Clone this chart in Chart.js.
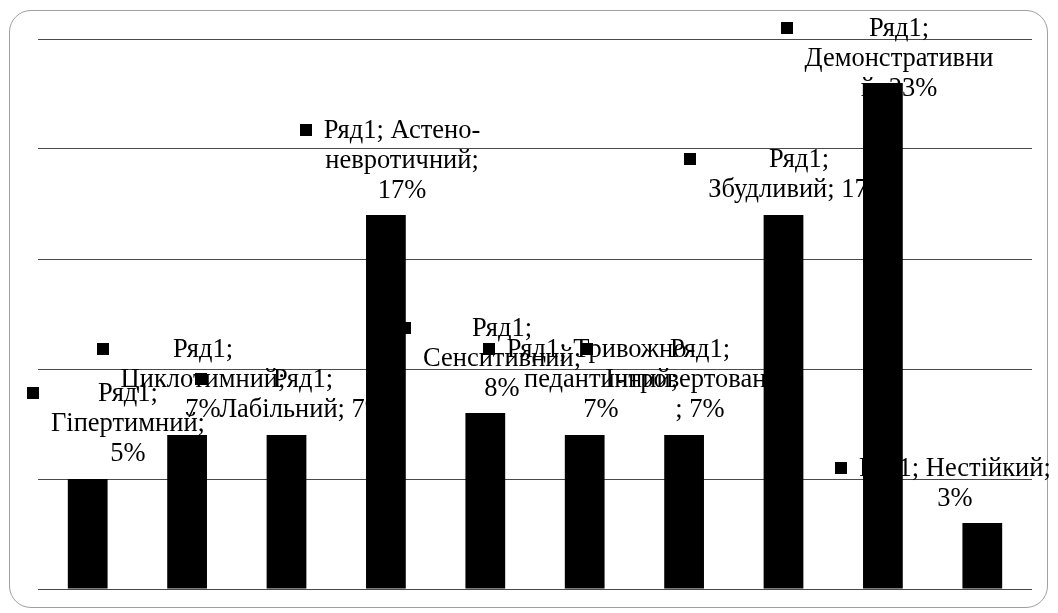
<!DOCTYPE html>
<html>
<head>
<meta charset="utf-8">
<script src="https://cdn.jsdelivr.net/npm/chart.js@4.4.1/dist/chart.umd.min.js"></script>
<style>
  html, body { margin: 0; padding: 0; background: #fff; }
  #wrap { position: relative; width: 1058px; height: 613px; }
  #frame { position: absolute; left: 9px; top: 10px; width: 1039px; height: 598px;
           border: 1.5px solid #a0a0a0; border-radius: 22px; box-sizing: border-box; }
  canvas { position: absolute; left: 0; top: 0; }
</style>
</head>
<body>
<div id="wrap">
  <div id="frame"></div>
  <canvas id="c" width="1058" height="613"></canvas>
</div>
<script>
// ---- data ----
const seriesName = "Ряд1";
const categories = ["Гіпертимний", "Циклотимний", "Лабільний", "Астено-невротичний", "Сенситивний",
  "Тривожно-педантичний", "Інтровертований", "Збудливий", "Демонстративний", "Нестійкий"];
const values = [5, 7, 7, 17, 8, 7, 7, 17, 23, 3];
const yTicks = [0, 5, 10, 15, 20, 25];

// label text as wrapped in the picture
const labelLines = [
  ["Ряд1;", "Гіпертимний;", "5%"],
  ["Ряд1;", "Циклотимний;", "7%"],
  ["Ряд1;", "Лабільний; 7%"],
  ["Ряд1; Астено-", "невротичний;", "17%"],
  ["Ряд1;", "Сенситивний;", "8%"],
  ["Ряд1; Тривожно-", "педантичний;", "7%"],
  ["Ряд1;", "Інтровертований", "; 7%"],
  ["Ряд1;", "Збудливий; 17%"],
  ["Ряд1;", "Демонстративни", "й; 23%"],
  ["Ряд1; Нестійкий;", "3%"]
];
// label anchor (first line) in data units: value axis, and offset in category widths
const labelY  = [8.86, 10.86, 9.5, 20.82, 11.82, 10.86, 10.86, 19.5, 25.45, 5.45];
const labelDX = [0.405, 0.16, 0.166, 0.162, 0.168, 0.164, 0.16, 0.156, 0.162, -0.275];

const labelPlugin = {
  id: 'excelLabels',
  beforeDatasetsDraw(chart) {
    const { ctx, scales: { x, y } } = chart;
    const step = x.getPixelForValue(1) - x.getPixelForValue(0);
    ctx.save();
    ctx.font = '26.5px "Liberation Serif", "Times New Roman", serif';
    ctx.textAlign = 'center';
    ctx.textBaseline = 'middle';
    ctx.fillStyle = '#000';
    const lh = 30;
    labelLines.forEach((lines, i) => {
      const cx = x.getPixelForValue(i) + labelDX[i] * step;
      const y0 = y.getPixelForValue(labelY[i]);
      let maxW = 0;
      lines.forEach(t => { maxW = Math.max(maxW, ctx.measureText(t).width); });
      lines.forEach((t, k) => ctx.fillText(t, cx, y0 + k * lh));
      const ks = 12;
      ctx.fillRect(Math.round(cx - maxW / 2 - 12 - ks), Math.round(y0 - ks / 2 - 1), ks, ks);
    });
    ctx.restore();
  }
};

new Chart(document.getElementById('c'), {
  type: 'bar',
  data: {
    labels: categories,
    datasets: [{
      label: seriesName,
      data: values,
      backgroundColor: '#000',
      borderWidth: 0,
      categoryPercentage: 1.0,
      barPercentage: 0.4
    }]
  },
  options: {
    responsive: false,
    animation: false,
    devicePixelRatio: 1,
    layout: { padding: { left: 38, top: 39, right: 26, bottom: 24 } },
    plugins: { legend: { display: false }, tooltip: { enabled: false } },
    scales: {
      x: { display: false },
      y: {
        min: 0, max: 25,
        afterBuildTicks: s => { s.ticks = yTicks.map(v => ({ value: v })); },
        afterFit: s => { s.width = 0; },
        ticks: { display: false },
        border: { display: false },
        grid: { color: '#4a4a4a', lineWidth: 1, drawTicks: false }
      }
    }
  },
  plugins: [labelPlugin]
});
</script>
</body>
</html>
